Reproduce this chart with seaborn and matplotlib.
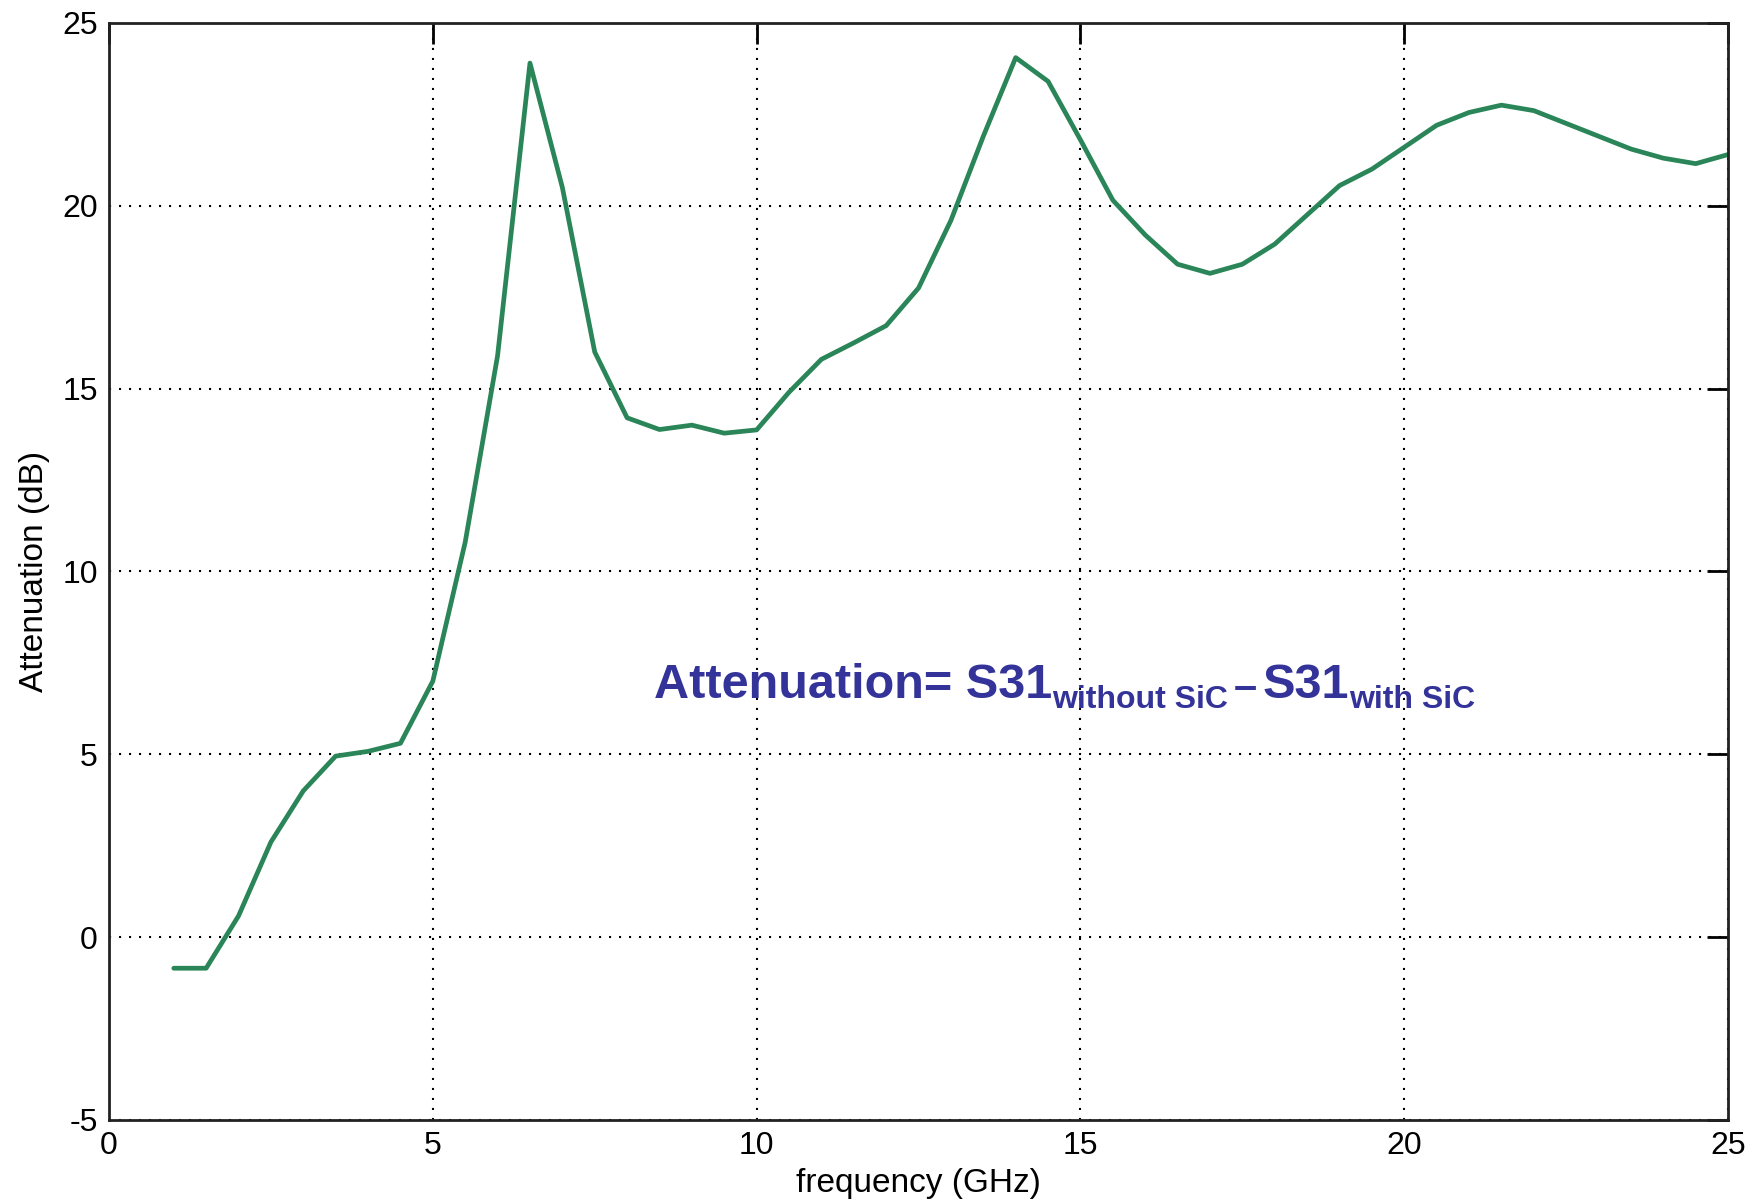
import numpy as np
import pandas as pd
import matplotlib
matplotlib.use("Agg")
import matplotlib.pyplot as plt
import seaborn as sns

# ---- data ----
freq_ghz = [1.0, 1.5, 2.0, 2.5, 3.0, 3.5, 4.0, 4.5, 5.0, 5.5, 6.0, 6.5, 7.0, 7.5,
            8.0, 8.5, 9.0, 9.5, 10.0, 10.5, 11.0, 11.5, 12.0, 12.5, 13.0, 13.5,
            14.0, 14.5, 15.0, 15.5, 16.0, 16.5, 17.0, 17.5, 18.0, 18.5, 19.0,
            19.5, 20.0, 20.5, 21.0, 21.5, 22.0, 22.5, 23.0, 23.5, 24.0, 24.5, 25.0]
attenuation_db = [-0.85, -0.85, 0.58, 2.6, 4.0, 4.95, 5.08, 5.3, 7.0, 10.8, 15.9, 23.9,
                  20.5, 16.0, 14.2, 13.88, 14.0, 13.78, 13.87, 14.9, 15.8, 16.25, 16.72,
                  17.75, 19.6, 21.9, 24.05, 23.4, 21.8, 20.15, 19.2, 18.4, 18.15, 18.4,
                  18.95, 19.75, 20.55, 21.0, 21.6, 22.2, 22.55, 22.75, 22.6, 22.25,
                  21.9, 21.55, 21.3, 21.15, 21.4]
x_ticks = [0, 5, 10, 15, 20, 25]
y_ticks = [-5, 0, 5, 10, 15, 20, 25]
x_label = "frequency (GHz)"
y_label = "Attenuation (dB)"
formula_parts = ["Attenuation= S31", "without SiC", "\u2013", "S31", "with SiC"]

df = pd.DataFrame({"freq": freq_ghz, "att": attenuation_db})

sns.set_theme(style="white")
plt.rcParams["font.family"] = ["Liberation Sans", "DejaVu Sans"]

fig = plt.figure(figsize=(17.58, 12.03), dpi=100)
ax = fig.add_axes([0.062, 0.069, 0.921, 0.912])

sns.lineplot(data=df, x="freq", y="att", color="#2a8558", linewidth=3.4, ax=ax)

ax.set_xlim(0, 25)
ax.set_ylim(-5, 25)
ax.set_xticks(x_ticks)
ax.set_yticks(y_ticks)
ax.set_xticklabels([str(t) for t in x_ticks])
ax.set_yticklabels([str(t) for t in y_ticks])

ax.grid(True, linestyle=(0, (1, 3.8)), color="black", linewidth=1.5)
ax.tick_params(axis="both", which="major", direction="in", length=15, width=2,
               labelsize=23, colors="black", top=True, right=True, pad=8)
for sp in ax.spines.values():
    sp.set_color("#222222")
    sp.set_linewidth(2)

ax.set_xlabel(x_label, fontsize=24, color="black", labelpad=5)
ax.set_ylabel(y_label, fontsize=24, color="black", labelpad=9)

# ---- formula annotation built from pieces (main text + subscripts) ----
blue = "#333399"
main_fs = 35
sub_fs = 23
t1 = ax.text(8.42, 6.55, formula_parts[0], fontsize=main_fs, fontweight="bold",
             color=blue, ha="left", va="baseline")
t2 = ax.annotate(formula_parts[1], xy=(1, 0), xycoords=t1, xytext=(0, 0),
                 textcoords="offset points", fontsize=sub_fs, fontweight="bold",
                 color=blue, ha="left", va="baseline")
t3 = ax.annotate(formula_parts[2], xy=(1, 0), xycoords=(t2, t1), xytext=(4, 0),
                 textcoords="offset points", fontsize=30, fontweight="bold",
                 color=blue, ha="left", va="bottom")
t4 = ax.annotate(formula_parts[3], xy=(1, 0), xycoords=(t3, t1), xytext=(4, 0),
                 textcoords="offset points", fontsize=main_fs, fontweight="bold",
                 color=blue, ha="left", va="bottom")
t5 = ax.annotate(formula_parts[4], xy=(1, 0), xycoords=t4, xytext=(0, 0),
                 textcoords="offset points", fontsize=sub_fs, fontweight="bold",
                 color=blue, ha="left", va="baseline")

fig.savefig("out.png", dpi=100, facecolor="white")
